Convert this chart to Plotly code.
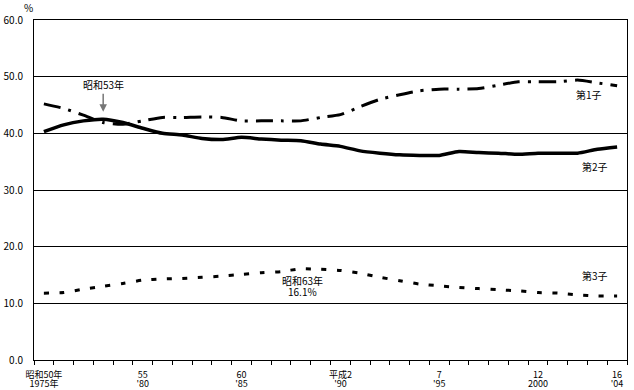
import plotly.graph_objects as go

years = list(range(1975, 2005))
first_child = [45.2, 44.4, 43.2, 41.9, 41.6, 42.2, 42.8, 42.8, 42.9, 42.8,
               42.2, 42.2, 42.2, 42.2, 42.8, 43.3, 44.7, 46.0, 46.8, 47.5,
               47.8, 47.8, 47.9, 48.5, 49.1, 49.1, 49.1, 49.4, 48.9, 48.4]
second_child = [40.3, 41.5, 42.2, 42.5, 41.9, 40.9, 40.0, 39.7, 39.1, 38.9,
                39.3, 39.0, 38.8, 38.7, 38.1, 37.7, 36.9, 36.5, 36.2, 36.1,
                36.1, 36.8, 36.6, 36.5, 36.3, 36.5, 36.5, 36.5, 37.2, 37.6]
third_child = [11.8, 11.9, 12.5, 13.0, 13.5, 14.1, 14.3, 14.4, 14.6, 14.8,
               15.1, 15.4, 15.6, 16.1, 16.0, 15.8, 15.3, 14.6, 14.0, 13.4,
               13.1, 12.8, 12.6, 12.4, 12.2, 11.9, 11.8, 11.5, 11.3, 11.3]
tick_years = [1975, 1980, 1985, 1990, 1995, 2000, 2004]
era_labels = ["昭和50年", "55", "60", "平成2", "7", "12", "16"]
western_labels = ["1975年", "'80", "'85", "'90", "'95", "2000", "'04"]
y_ticks = [0, 10, 20, 30, 40, 50, 60]

FONT = "Noto Sans CJK JP, sans-serif"

fig = go.Figure()
fig.add_trace(go.Scatter(x=years, y=first_child, mode="lines", name="第1子",
                         line=dict(color="black", width=3, dash="17px,8px,3px,8px",
                                   shape="spline", smoothing=0.6)))
fig.add_trace(go.Scatter(x=years, y=second_child, mode="lines", name="第2子",
                         line=dict(color="black", width=3.5, shape="spline", smoothing=0.6)))
fig.add_trace(go.Scatter(x=years, y=third_child, mode="lines", name="第3子",
                         line=dict(color="black", width=3, dash="5px,10.5px",
                                   shape="spline", smoothing=0.6)))
# invisible carrier trace for the second (western-year) label row
fig.add_trace(go.Scatter(x=years, y=second_child, xaxis="x2", mode="lines",
                         line=dict(width=0, color="rgba(0,0,0,0)"),
                         hoverinfo="skip", showlegend=False))

fig.update_layout(
    width=634, height=390,
    margin=dict(l=34, r=7, t=20, b=30),
    paper_bgcolor="white", plot_bgcolor="white",
    showlegend=False,
    font=dict(family=FONT, size=10, color="black"),
    xaxis=dict(range=[1974.5, 2004.5], tickvals=tick_years, ticktext=era_labels,
               ticks="", showgrid=False, zeroline=False, automargin=False,
               showline=True, linecolor="black", linewidth=1, mirror=True,
               minor=dict(tick0=1974.5, dtick=1, ticks="outside", ticklen=4,
                          tickcolor="black", showgrid=False),
               ticklabelstandoff=6, tickfont=dict(size=9), fixedrange=True),
    xaxis2=dict(range=[1974.5, 2004.5], overlaying="x", side="bottom", anchor="y",
                tickvals=tick_years, ticktext=western_labels, ticks="",
                showgrid=False, zeroline=False, showline=False, automargin=False,
                ticklabelstandoff=17, tickfont=dict(size=9), fixedrange=True),
    yaxis=dict(range=[0, 60], tickvals=y_ticks, tickformat=".1f",
               ticks="", showgrid=True, gridcolor="black", gridwidth=1,
               zeroline=False, showline=True, linecolor="black", linewidth=1,
               mirror=True, ticklabelstandoff=8, tickfont=dict(size=10),
               automargin=False, fixedrange=True),
)

ann = [
    dict(text="%", xref="paper", yref="paper", x=-0.01, y=1.038, showarrow=False,
         xanchor="center", yanchor="middle"),
    dict(text="昭和53年", x=1978, y=43.8, showarrow=True,
         ax=0, ay=-27, arrowhead=2, arrowsize=1, arrowwidth=1.5, arrowcolor="#777777"),
    dict(text="第1子", x=2002.6, y=46.8, showarrow=False),
    dict(text="第2子", x=2002.9, y=34.1, showarrow=False),
    dict(text="第3子", x=2002.9, y=15.0, showarrow=False),
    dict(text="昭和63年", x=1988.1, y=14.1, showarrow=False),
    dict(text="16.1%", x=1988.1, y=12.1, showarrow=False),
]
for a in ann:
    a.setdefault("xref", "x")
    a.setdefault("yref", "y")
    fig.add_annotation(**a)

fig.write_html("out.html", config={"displayModeBar": False},
               post_script="document.body.style.margin='0';document.body.style.padding='0';")
